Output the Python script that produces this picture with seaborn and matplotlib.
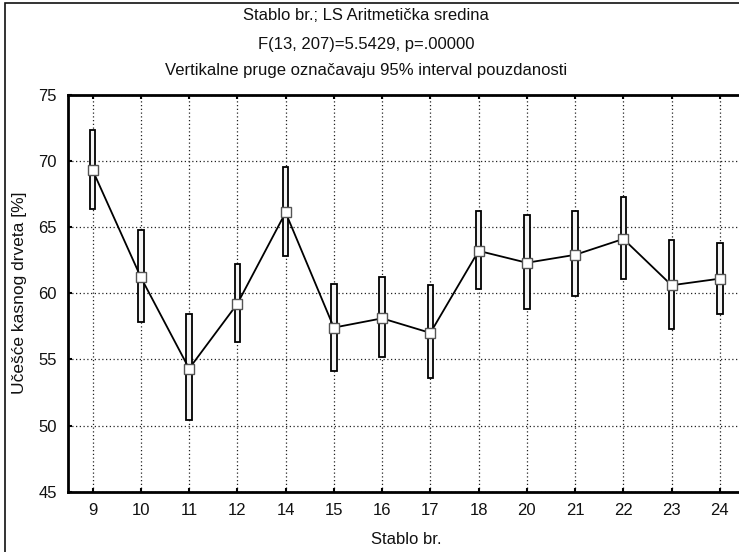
import matplotlib
matplotlib.use("Agg")
import matplotlib.pyplot as plt
import seaborn as sns
import pandas as pd
from matplotlib.patches import Rectangle

# ---- data ----
categories = ["9", "10", "11", "12", "14", "15", "16", "17", "18", "20", "21", "22", "23", "24"]
means = [69.3, 61.2, 54.3, 59.2, 66.1, 57.4, 58.1, 57.0, 63.2, 62.3, 62.9, 64.1, 60.6, 61.1]
ci_low = [66.4, 57.8, 50.4, 56.3, 62.8, 54.1, 55.2, 53.6, 60.3, 58.8, 59.8, 61.1, 57.3, 58.4]
ci_high = [72.3, 64.8, 58.4, 62.2, 69.5, 60.7, 61.2, 60.6, 66.2, 65.9, 66.2, 67.3, 64.0, 63.8]
y_ticks = [45, 50, 55, 60, 65, 70, 75]

title_lines = ["Stablo br.; LS Aritmetička sredina",
               "F(13, 207)=5.5429, p=.00000",
               "Vertikalne pruge označavaju 95% interval pouzdanosti"]
x_label = "Stablo br."
y_label = "Učešće kasnog drveta [%]"

df = pd.DataFrame({"pos": range(len(categories)), "cat": categories,
                   "mean": means, "low": ci_low, "high": ci_high})

sns.set_theme(style="white")
plt.rcParams["font.family"] = ["Liberation Sans", "DejaVu Sans"]

W, H = 739, 552
fig = plt.figure(figsize=(W / 100, H / 100), dpi=100)
# axes: left spine at x=68, top at y=94.7, bottom at y=491.7; extends past right edge
x_left, x_right = -0.51, 13.51
px_left = 68
px_per_unit = 48.25
ax_w_px = (x_right - x_left) * px_per_unit
ax = fig.add_axes([px_left / W, (H - 491.7) / H, ax_w_px / W, (491.7 - 94.7) / H])

# figure border (left + top visible)
fig.patches.append(Rectangle((5 / W, -0.1), 1.2, (H - 3) / H + 0.1, transform=fig.transFigure,
                             fill=False, edgecolor="#111111", linewidth=1.2, zorder=0))

# CI boxes
ax.bar(df["pos"], df["high"] - df["low"], bottom=df["low"], width=0.115,
       color="#f4f4f4", edgecolor="black", linewidth=1.3, zorder=3)

# mean line with square markers
sns.lineplot(data=df, x="pos", y="mean", ax=ax, color="black", linewidth=1.3,
             marker="s", markersize=6.5, markerfacecolor="white",
             markeredgecolor="#555555", markeredgewidth=1.0, zorder=4)

ax.set_xlim(x_left, x_right)
ax.set_ylim(45, 75)
ax.set_xticks(df["pos"])
ax.set_xticklabels(categories)
ax.set_yticks(y_ticks)
ax.set_yticklabels([str(v) for v in y_ticks])

ax.grid(True, linestyle=(0, (1, 2)), color="#222222", linewidth=0.9)
ax.set_axisbelow(True)

for side in ["left", "top", "bottom"]:
    ax.spines[side].set_visible(True)
    ax.spines[side].set_linewidth(2.0)
    ax.spines[side].set_color("black")
ax.spines["right"].set_visible(False)

ax.tick_params(axis="both", direction="in", length=3, width=1.5, color="black",
               labelsize=12, labelcolor="#111111", top=True, bottom=True, left=True)
ax.tick_params(axis="x", pad=8)
ax.tick_params(axis="y", pad=8)

ax.set_xlabel(x_label, fontsize=12, labelpad=10, color="#111111")
ax.set_ylabel(y_label, fontsize=12.5, labelpad=8, color="#111111")

# three centered title lines
cx = 366 / W
for line, ypx in zip(title_lines, [15, 44, 71]):
    fig.text(cx, 1 - ypx / H, line, ha="center", va="center", fontsize=12, color="#111111")

fig.savefig("out.png", dpi=100)
